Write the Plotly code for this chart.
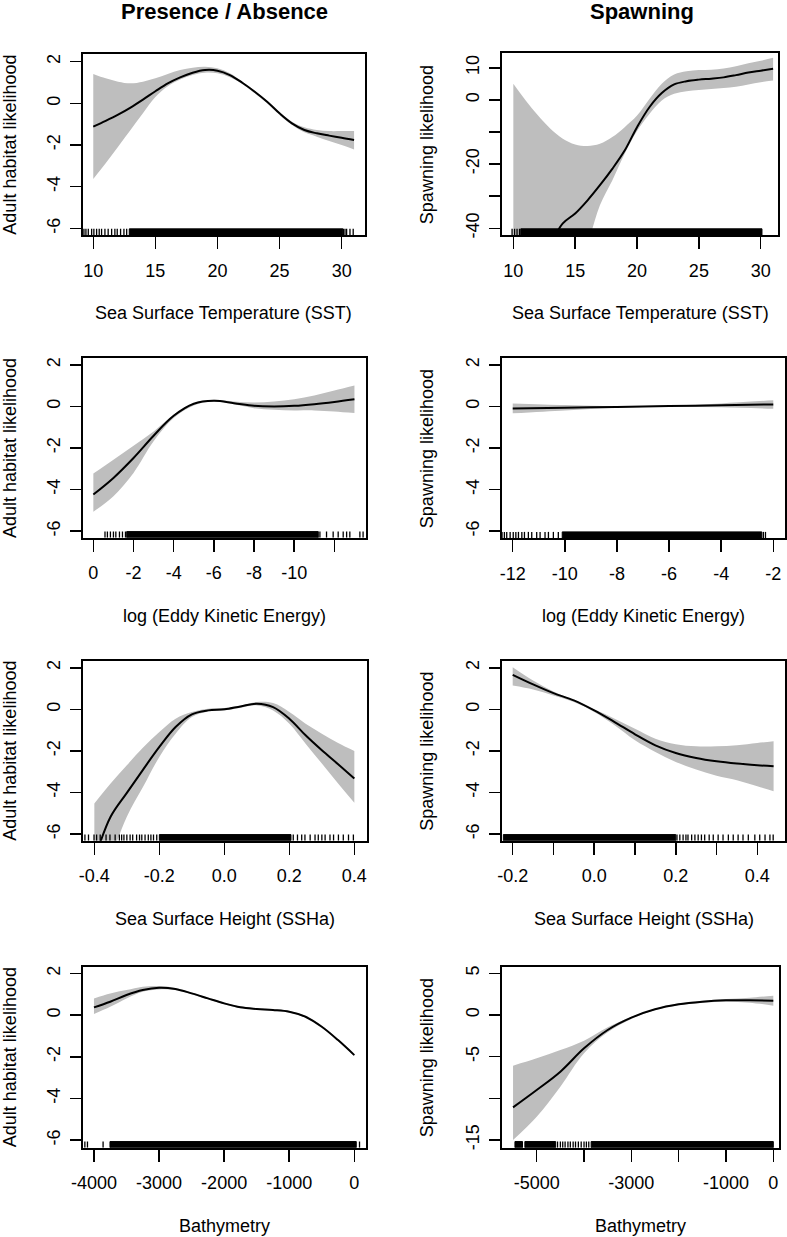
import plotly.graph_objects as go

FONT = "Liberation Sans, Arial, Helvetica, sans-serif"
W, H = 787, 1237
BAND = "#BEBEBE"

# ---------------- data ----------------
# Panel 1: SST, presence / absence
sst_pa_x = [10, 11, 12, 13, 14, 15, 16, 17, 18, 19, 20, 21, 22, 23, 24, 25, 26, 27, 28, 29, 30, 31]
sst_pa_fit = [-1.12, -0.84, -0.54, -0.20, 0.18, 0.58, 0.96, 1.25, 1.47, 1.60, 1.57, 1.36, 0.99, 0.56, 0.08, -0.48, -0.96, -1.28, -1.44, -1.55, -1.65, -1.76]
sst_pa_up = [1.41, 1.20, 1.04, 0.96, 1.04, 1.20, 1.41, 1.60, 1.71, 1.76, 1.68, 1.44, 1.04, 0.61, 0.11, -0.43, -0.88, -1.15, -1.28, -1.33, -1.33, -1.33]
sst_pa_lo = [-3.63, -2.88, -2.08, -1.28, -0.48, 0.30, 0.82, 1.14, 1.36, 1.47, 1.44, 1.25, 0.93, 0.48, 0.00, -0.56, -1.04, -1.39, -1.60, -1.81, -2.00, -2.21]
sst_pa_rug = [9.25, 9.41, 9.60, 9.87, 10.05, 10.27, 10.48, 10.67, 10.94, 11.20, 11.48, 11.74, 11.93, 12.20, 12.47, 12.69, 30.14, 30.27, 30.40, 30.67, 30.93]
sst_pa_rug_dense = [(12.9, 30.1)]

# Panel 2: SST, spawning
sst_sp_x = [10, 11, 12, 13, 14, 15, 16, 17, 18, 19, 20, 21, 22, 23, 24, 25, 26, 27, 28, 29, 30, 31]
sst_sp_fit = [-66, -59, -52, -45, -38.5, -35.4, -31.3, -26.6, -21.5, -15.8, -8.5, -2.3, 2.1, 4.8, 5.8, 6.3, 6.6, 7.0, 7.7, 8.5, 9.1, 9.7]
sst_sp_up = [5.0, -0.2, -4.9, -9.0, -12.1, -13.9, -14.4, -13.7, -11.6, -8.5, -4.9, 0.3, 5.0, 7.9, 8.9, 9.3, 9.4, 9.8, 10.5, 11.4, 12.2, 13.1]
sst_sp_lo = [-120, -100, -85, -72, -60, -52, -44.5, -32.8, -25.1, -16.8, -9.7, -4.4, -0.2, 1.9, 2.7, 3.1, 3.4, 3.7, 4.1, 4.8, 5.5, 6.0]
sst_sp_rug = [9.9, 10.1, 10.3, 10.5]
sst_sp_rug_dense = [(10.6, 30.1)]

# Panel 3: log(EKE), presence / absence
eke_pa_x = [0, -1, -2, -3, -4, -5, -6, -7, -8, -9, -10, -11, -12, -13]
eke_pa_fit = [-4.24, -3.44, -2.48, -1.41, -0.45, 0.13, 0.27, 0.16, 0.03, 0.00, 0.03, 0.11, 0.22, 0.35]
eke_pa_up = [-3.23, -2.56, -1.89, -1.20, -0.40, 0.16, 0.32, 0.24, 0.19, 0.24, 0.35, 0.53, 0.77, 1.01]
eke_pa_lo = [-5.07, -4.32, -3.20, -1.68, -0.56, 0.05, 0.24, 0.11, -0.08, -0.16, -0.19, -0.19, -0.24, -0.32]
eke_pa_rug = [-0.58, -0.70, -0.85, -1.00, -1.12, -1.30, -1.45, -1.60, -11.28, -11.61, -11.94, -12.19, -12.44, -12.61, -12.77, -13.27, -13.43]
eke_pa_rug_dense = [(-1.66, -11.2)]

# Panel 4: log(EKE), spawning
eke_sp_x = [-12, -10, -8, -6, -4, -2]
eke_sp_fit = [-0.10, -0.06, -0.02, 0.02, 0.06, 0.10]
eke_sp_up = [0.15, 0.07, 0.01, 0.05, 0.15, 0.30]
eke_sp_lo = [-0.33, -0.19, -0.06, -0.01, -0.04, -0.11]
eke_sp_rug = [-12.40, -12.32, -12.23, -12.10, -11.98, -11.88, -11.78, -11.65, -11.55, -11.40, -11.27, -11.08, -10.95, -10.76, -10.63, -10.44, -10.25, -2.38, -2.30]
eke_sp_rug_dense = [(-10.1, -2.44)]

# Panel 5: SSHa, presence / absence
ssh_pa_x = [-0.40, -0.35, -0.30, -0.25, -0.20, -0.15, -0.10, -0.05, 0.00, 0.05, 0.10, 0.15, 0.20, 0.25, 0.30, 0.35, 0.40]
ssh_pa_fit = [-7.25, -5.17, -4.02, -2.90, -1.81, -0.85, -0.24, -0.05, 0.00, 0.14, 0.27, 0.11, -0.45, -1.25, -1.97, -2.64, -3.33]
ssh_pa_up = [-4.53, -3.57, -2.69, -1.84, -1.09, -0.45, -0.13, 0.03, 0.06, 0.19, 0.35, 0.30, -0.13, -0.69, -1.17, -1.62, -2.00]
ssh_pa_lo = [-9.50, -7.20, -5.17, -3.73, -2.29, -1.17, -0.37, -0.10, -0.05, 0.08, 0.19, -0.05, -0.69, -1.65, -2.61, -3.57, -4.50]
ssh_pa_rug = [-0.429, -0.418, -0.401, -0.393, -0.382, -0.364, -0.352, -0.336, -0.323, -0.316, -0.309, -0.300, -0.290, -0.282, -0.270, -0.261, -0.254, -0.244, -0.234, -0.226, -0.218, -0.208,
              0.212, 0.225, 0.238, 0.248, 0.264, 0.279, 0.289, 0.300, 0.310, 0.325, 0.336, 0.351, 0.366, 0.382, 0.397]
ssh_pa_rug_dense = [(-0.200, 0.205)]

# Panel 6: SSHa, spawning
ssh_sp_x = [-0.20, -0.15, -0.10, -0.05, 0.00, 0.05, 0.10, 0.15, 0.20, 0.25, 0.30, 0.35, 0.40, 0.44]
ssh_sp_fit = [1.66, 1.20, 0.78, 0.43, -0.05, -0.61, -1.20, -1.73, -2.10, -2.34, -2.50, -2.61, -2.69, -2.74]
ssh_sp_up = [2.03, 1.39, 0.86, 0.43, 0.00, -0.45, -0.93, -1.41, -1.68, -1.78, -1.78, -1.73, -1.62, -1.54]
ssh_sp_lo = [1.15, 0.96, 0.67, 0.35, -0.13, -0.77, -1.49, -2.05, -2.53, -2.90, -3.20, -3.41, -3.70, -3.94]
ssh_sp_rug = [0.203, 0.210, 0.218, 0.225, 0.230, 0.239, 0.247, 0.255, 0.263, 0.271, 0.282, 0.292, 0.304, 0.316, 0.329, 0.341, 0.353, 0.365, 0.378, 0.394, 0.406, 0.419, 0.431, 0.439]
ssh_sp_rug_dense = [(-0.223, 0.200)]

# Panel 7: bathymetry, presence / absence
bat_pa_x = [-4000, -3750, -3500, -3250, -3000, -2750, -2500, -2250, -2000, -1750, -1500, -1250, -1000, -750, -500, -250, 0]
bat_pa_fit = [0.37, 0.64, 0.96, 1.20, 1.31, 1.25, 1.04, 0.80, 0.56, 0.37, 0.29, 0.24, 0.16, -0.08, -0.56, -1.20, -1.92]
bat_pa_up = [0.80, 1.04, 1.20, 1.36, 1.39, 1.30, 1.08, 0.84, 0.60, 0.41, 0.33, 0.28, 0.20, -0.04, -0.52, -1.16, -1.88]
bat_pa_lo = [0.05, 0.40, 0.80, 1.12, 1.23, 1.20, 1.00, 0.76, 0.52, 0.33, 0.25, 0.20, 0.12, -0.12, -0.60, -1.24, -1.96]
bat_pa_rug = [-4140, -4100, -3860, 80]
bat_pa_rug_dense = [(-3754, 30)]

# Panel 8: bathymetry, spawning
bat_sp_x = [-5500, -5000, -4500, -4000, -3500, -3000, -2500, -2000, -1500, -1000, -500, 0]
bat_sp_fit = [-11.08, -9.0, -6.8, -4.0, -1.8, -0.32, 0.68, 1.28, 1.60, 1.76, 1.76, 1.72]
bat_sp_up = [-6.08, -5.2, -4.2, -3.08, -1.48, -0.20, 0.76, 1.40, 1.72, 1.92, 2.08, 2.32]
bat_sp_lo = [-15.0, -12.2, -8.6, -4.6, -2.08, -0.48, 0.60, 1.16, 1.48, 1.60, 1.48, 1.12]
bat_sp_rug = [-4560, -4500, -4450, -4400, -4340, -4290, -4230, -4180, -4120, -4060, -4000, -3950, -3900]
bat_sp_rug_dense = [(-5460, -5300), (-5250, -4600), (-3850, 0)]

# tick values / labels
sst_ticks = [10, 15, 20, 25, 30]
sst_labels = ["10", "15", "20", "25", "30"]
eke_pa_ticks = [0, -2, -4, -6, -8, -10, -12]
eke_pa_labels = ["0", "-2", "-4", "-6", "-8", "-10", ""]
eke_sp_ticks = [-12, -10, -8, -6, -4, -2]
eke_sp_labels = ["-12", "-10", "-8", "-6", "-4", "-2"]
ssh_pa_ticks = [-0.4, -0.2, 0.0, 0.2, 0.4]
ssh_pa_labels = ["-0.4", "-0.2", "0.0", "0.2", "0.4"]
ssh_sp_ticks = [-0.2, -0.1, 0.0, 0.1, 0.2, 0.3, 0.4]
ssh_sp_labels = ["-0.2", "", "0.0", "", "0.2", "", "0.4"]
bat_pa_ticks = [-4000, -3000, -2000, -1000, 0]
bat_pa_labels = ["-4000", "-3000", "-2000", "-1000", "0"]
bat_sp_ticks = [-5000, -4000, -3000, -2000, -1000, 0]
bat_sp_labels = ["-5000", "", "-3000", "", "-1000", "0"]
y_std_ticks = [2, 0, -2, -4, -6]
y_std_labels = ["2", "0", "-2", "-4", "-6"]
y_sst_sp_ticks = [10, 0, -10, -20, -30, -40]
y_sst_sp_labels = ["10", "0", "", "-20", "", "-40"]
y_bat_sp_ticks = [5, 0, -5, -10, -15]
y_bat_sp_labels = ["5", "0", "-5", "", "-15"]

col_titles = ["Presence / Absence", "Spawning"]
row_xtitles = ["Sea Surface Temperature (SST)", "log (Eddy Kinetic Energy)", "Sea Surface Height (SSHa)", "Bathymetry"]
col_ytitles = ["Adult habitat likelihood", "Spawning likelihood"]

# ---------------- panel definitions ----------------
panels = [
    dict(x=sst_pa_x, fit=sst_pa_fit, up=sst_pa_up, lo=sst_pa_lo, rug=sst_pa_rug, dense=sst_pa_rug_dense,
         xt=sst_ticks, xl=sst_labels, yt=y_std_ticks, yl=y_std_labels,
         box=(82.7, 365.0, 54.3, 235.0), xr=[9.15, 31.88], yr=[-6.32, 2.355]),
    dict(x=sst_sp_x, fit=sst_sp_fit, up=sst_sp_up, lo=sst_sp_lo, rug=sst_sp_rug, dense=sst_sp_rug_dense,
         xt=sst_ticks, xl=sst_labels, yt=y_sst_sp_ticks, yl=y_sst_sp_labels,
         box=(501.7, 778.3, 53.3, 235.0), xr=[9.06, 31.42], yr=[-42.1, 14.5]),
    dict(x=eke_pa_x, fit=eke_pa_fit, up=eke_pa_up, lo=eke_pa_lo, rug=eke_pa_rug, dense=eke_pa_rug_dense,
         xt=eke_pa_ticks, xl=eke_pa_labels, yt=y_std_ticks, yl=y_std_labels,
         box=(82.7, 365.7, 358.3, 537.7), xr=[0.53, -13.56], yr=[-6.32, 2.32]),
    dict(x=eke_sp_x, fit=eke_sp_fit, up=eke_sp_up, lo=eke_sp_lo, rug=eke_sp_rug, dense=eke_sp_rug_dense,
         xt=eke_sp_ticks, xl=eke_sp_labels, yt=y_std_ticks, yl=y_std_labels,
         box=(502.3, 785.0, 358.3, 538.0), xr=[-12.4, -1.55], yr=[-6.33, 2.32]),
    dict(x=ssh_pa_x, fit=ssh_pa_fit, up=ssh_pa_up, lo=ssh_pa_lo, rug=ssh_pa_rug, dense=ssh_pa_rug_dense,
         xt=ssh_pa_ticks, xl=ssh_pa_labels, yt=y_std_ticks, yl=y_std_labels,
         box=(83.3, 366.7, 660.7, 840.7), xr=[-0.434, 0.438], yr=[-6.32, 2.34]),
    dict(x=ssh_sp_x, fit=ssh_sp_fit, up=ssh_sp_up, lo=ssh_sp_lo, rug=ssh_sp_rug, dense=ssh_sp_rug_dense,
         xt=ssh_sp_ticks, xl=ssh_sp_labels, yt=y_std_ticks, yl=y_std_labels,
         box=(502.3, 785.0, 660.7, 840.7), xr=[-0.2255, 0.468], yr=[-6.32, 2.34]),
    dict(x=bat_pa_x, fit=bat_pa_fit, up=bat_pa_up, lo=bat_pa_lo, rug=bat_pa_rug, dense=bat_pa_rug_dense,
         xt=bat_pa_ticks, xl=bat_pa_labels, yt=y_std_ticks, yl=y_std_labels,
         box=(83.3, 365.7, 966.7, 1147.7), xr=[-4164, 175], yr=[-6.36, 2.32]),
    dict(x=bat_sp_x, fit=bat_sp_fit, up=bat_sp_up, lo=bat_sp_lo, rug=bat_sp_rug, dense=bat_sp_rug_dense,
         xt=bat_sp_ticks, xl=bat_sp_labels, yt=y_bat_sp_ticks, yl=y_bat_sp_labels,
         box=(502.3, 779.0, 966.7, 1147.7), xr=[-5727, 120], yr=[-15.92, 5.79]),
]

fig = go.Figure()
layout = {}
annotations = []

for i, p in enumerate(panels):
    n = i + 1
    xa = "x" if n == 1 else f"x{n}"
    ya = "y" if n == 1 else f"y{n}"
    left, right, top, bottom = p["box"]
    ylo, yhi = p["yr"]
    # confidence band
    fig.add_trace(go.Scatter(x=p["x"], y=p["lo"], mode="lines", line=dict(width=0, shape="spline", color=BAND),
                             xaxis=xa, yaxis=ya, showlegend=False, hoverinfo="skip"))
    fig.add_trace(go.Scatter(x=p["x"], y=p["up"], mode="lines", line=dict(width=0, shape="spline", color=BAND),
                             fill="tonexty", fillcolor=BAND, xaxis=xa, yaxis=ya, showlegend=False, hoverinfo="skip"))
    # fitted smooth
    fig.add_trace(go.Scatter(x=p["x"], y=p["fit"], mode="lines", line=dict(width=2, color="black", shape="spline"),
                             xaxis=xa, yaxis=ya, showlegend=False))
    # rug
    rug_top = ylo + 0.034 * (yhi - ylo)
    rx, ry = [], []
    for v in p["rug"]:
        rx += [v, v, None]
        ry += [ylo, rug_top, None]
    fig.add_trace(go.Scatter(x=rx, y=ry, mode="lines", line=dict(width=1.3, color="black"),
                             xaxis=xa, yaxis=ya, showlegend=False, hoverinfo="skip"))
    for a, b in p["dense"]:
        fig.add_trace(go.Scatter(x=[a, b, b, a, a], y=[ylo, ylo, rug_top, rug_top, ylo], mode="lines",
                                 fill="toself", fillcolor="black", line=dict(width=1, color="black"),
                                 xaxis=xa, yaxis=ya, showlegend=False, hoverinfo="skip"))

    common = dict(showline=True, mirror=True, linecolor="black", linewidth=2, showgrid=False, zeroline=False,
                  ticks="outside", tickcolor="black", tickwidth=1.5, automargin=False,
                  tickfont=dict(family=FONT, size=18, color="black"), fixedrange=True)
    layout[f"xaxis{'' if n == 1 else n}"] = dict(
        common, domain=[left / W, right / W], range=p["xr"], anchor=ya,
        tickmode="array", tickvals=p["xt"], ticktext=p["xl"], ticklen=12, ticklabelstandoff=6)
    layout[f"yaxis{'' if n == 1 else n}"] = dict(
        common, domain=[1 - bottom / H, 1 - top / H], range=p["yr"], anchor=xa,
        tickmode="array", tickvals=p["yt"], ticktext=p["yl"], ticklen=11, tickangle=-90, ticklabelstandoff=3)

    # axis titles
    annotations.append(dict(text=row_xtitles[i // 2], x=(left + right) / 2 / W, y=1 - (bottom + 78) / H,
                             xref="paper", yref="paper", showarrow=False, xanchor="center", yanchor="middle",
                             font=dict(family=FONT, size=18, color="black")))
    ytx = 10 if i % 2 == 0 else 427
    annotations.append(dict(text=col_ytitles[i % 2], x=ytx / W, y=1 - (top + bottom) / 2 / H,
                             xref="paper", yref="paper", showarrow=False, xanchor="center", yanchor="middle",
                             textangle=-90, font=dict(family=FONT, size=18, color="black")))

for j, t in enumerate(col_titles):
    cx = 224 if j == 0 else 642
    annotations.append(dict(text=f"<b>{t}</b>", x=cx / W, y=1 - 11 / H, xref="paper", yref="paper",
                             showarrow=False, xanchor="center", yanchor="middle",
                             font=dict(family=FONT, size=22, color="black")))

fig.update_layout(template="none", width=W, height=H, autosize=False, margin=dict(l=0, r=0, t=0, b=0, pad=0),
                  paper_bgcolor="white", plot_bgcolor="white", showlegend=False,
                  annotations=annotations, **layout)

fig.write_html("out.html", config={"displayModeBar": False, "staticPlot": True},
               post_script="document.body.style.margin='0';document.body.style.overflow='hidden';")
